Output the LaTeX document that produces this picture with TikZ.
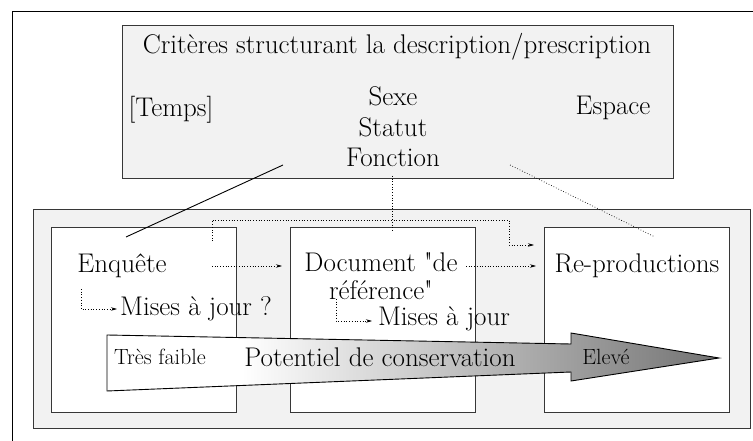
\documentclass[tikz,border=0pt]{standalone}
\usepackage{fontspec}
\usetikzlibrary{arrows.meta}
\definecolor{panelgray}{RGB}{242,242,242}
\definecolor{edgegray}{RGB}{55,55,55}
\pgfdeclarehorizontalshading{potshade}{100bp}{color(0bp)=(white); color(36bp)=(white); color(75bp)=(black!55); color(100bp)=(black!55)}

\begin{document}
\begin{tikzpicture}[x=1pt,y=-1pt,>={Stealth[length=6pt,width=3.5pt]}]

%
% Styles
%
\tikzstyle{frame} = [draw=black,line width=0.9pt]
\tikzstyle{graybox} = [rectangle,draw=edgegray,fill=panelgray,line width=1pt,inner sep=0pt]
\tikzstyle{whitebox} = [rectangle,draw=edgegray,fill=white,line width=1pt,inner sep=0pt,minimum width=185pt,minimum height=184pt]
\tikzstyle{big} = [font=\fontsize{27}{30.5}\selectfont,inner sep=0pt,align=center]
\tikzstyle{small} = [font=\fontsize{22}{24}\selectfont,inner sep=0pt]
\tikzstyle{link} = [dotted,line width=0.7pt]

\useasboundingbox (0,0) rectangle (753,441);

% outer frame
\draw[frame] (12,445) -- (12,11) -- (756,11);

% criteria box
\node[graybox,minimum width=551pt,minimum height=153pt] (critbox) at (397.5,102.5) {};
\node[big] (title) at (397,47) {Critères structurant la description/prescription};
\node[big] (temps) at (171,110) {[Temps]};
\node[big] (crits) at (393,127) {Sexe\\Statut\\Fonction};
\node[big] (espace) at (613,108) {Espace};

% panel with the three stages
\node[graybox,minimum width=717pt,minimum height=218pt] (panel) at (391.5,319) {};
\node[whitebox] (enqbox) at (143.5,320) {};
\node[whitebox] (docbox) at (382.5,320) {};
\node[whitebox] (repbox) at (636.5,320) {};

\node[big] (enquete) at (122,266) {Enquête};
\node[big] (majA) at (196,309) {Mises à jour ?};
\node[big,font=\fontsize{27}{28}\selectfont] (docref) at (381,276) {Document \textquotedbl de\\référence\textquotedbl};
\node[big] (majB) at (444,319) {Mises à jour};
\node[big] (repro) at (637,266) {Re-productions};

% connectors
\coordinate (s1) at (283,165);
\coordinate (s2) at (126,237);
\coordinate (v1) at (392,176);
\coordinate (v2) at (392,232);
\coordinate (d1) at (510,165);
\coordinate (d2) at (655,237);
\coordinate (k1) at (212,241);
\coordinate (kt) at (509,220);
\coordinate (k2) at (509,245);
\coordinate (k3) at (534,245);
\coordinate (a1) at (212,266);
\coordinate (a2) at (282,266);
\coordinate (b1) at (466,266);
\coordinate (b2) at (536,266);
\coordinate (m1) at (81,289);
\coordinate (m2) at (117,309);
\coordinate (n1) at (336,299);
\coordinate (n2) at (372,321);

\draw[line width=0.9pt] (s1) -- (s2);
\draw[link] (v1) -- (v2);
\draw[link] (d1) -- (d2);
\draw[link,->] (k1) |- (kt) -- (k2) -- (k3);
\draw[link,->] (a1) -- (a2);
\draw[link,->] (b1) -- (b2);
\draw[link,->] (m1) |- (m2);
\draw[link,->] (n1) |- (n2);

% conservation arrow
\shadedraw[shading=potshade,draw=black,line width=0.9pt]
  (107,335) -- (571,344) -- (571,333) -- (719,358) -- (571,381) -- (571,372) -- (107,391) -- cycle;
\node[small] (faible) at (160,357) {Très faible};
\node[big] (potentiel) at (380,357) {Potentiel de conservation};
\node[small] (eleve) at (606,357) {Elevé};

\end{tikzpicture}
\end{document}
